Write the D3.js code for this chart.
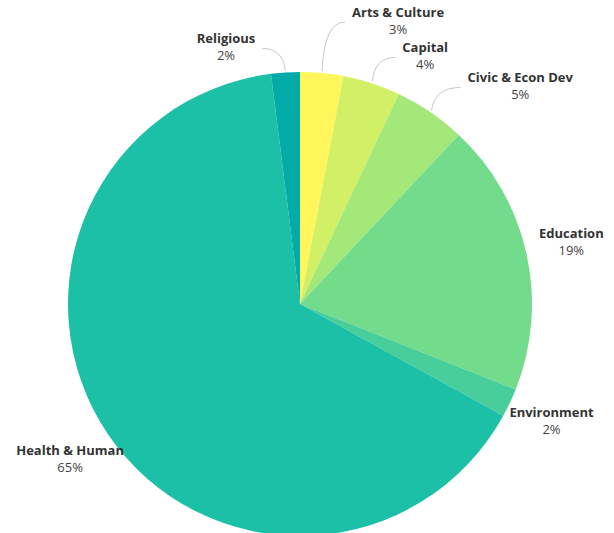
<!DOCTYPE html>
<html>
<head>
<meta charset="utf-8">
<script src="https://cdn.jsdelivr.net/npm/d3@7"></script>
<style>
  body { margin: 0; background: #fff; }
  svg { display: block; font-family: "Open Sans", sans-serif; }
</style>
</head>
<body>
<svg width="614" height="533"></svg>
<script>
const width = 614;
const height = 533;

// data, clockwise from 12 o'clock
const categories = ["Arts & Culture", "Capital", "Civic & Econ Dev", "Education", "Environment", "Health & Human", "Religious"];
const values = [3, 4, 5, 19, 2, 65, 2];

const palette = ["#fef65b", "#d1f065", "#a3e878", "#72db8c", "#47ce9a", "#1cc0a7", "#03aba8"];

// small slices get a curved leader line, offset from the slice edge
const connectors = {
  "Religious": [-23, -22],
  "Arts & Culture": [23, -49],
  "Capital": [23, -24],
  "Civic & Econ Dev": [29, -23]
};

const cx = 300;
const cy = 304;
const radius = 232;

const svg = d3.select("svg");
const color = d3.scaleOrdinal().domain(categories).range(palette);

const pie = d3.pie().sort(null).value(d => d.value);
const arcs = pie(categories.map((c, i) => ({ name: c, value: values[i] })));

const arc = d3.arc().innerRadius(0).outerRadius(radius);

const g = svg.append("g").attr("transform", `translate(${cx},${cy})`);

g.selectAll("path.slice")
  .data(arcs)
  .join("path")
  .attr("class", "slice")
  .attr("d", arc)
  .attr("fill", d => color(d.data.name));

function polar(a, r) {
  return [Math.sin(a) * r, -Math.cos(a) * r];
}

const labels = g.append("g");

arcs.forEach(d => {
  const mid = (d.startAngle + d.endAngle) / 2;
  const off = connectors[d.data.name];
  let lx, ly, anchorSide = 0, ex, ey;

  if (off) {
    const [sx, sy] = polar(mid, radius + 2);
    ex = sx + off[0];
    ey = sy + off[1];
    labels.append("path")
      .attr("d", `M${sx},${sy}Q${sx + off[0] * 0.1},${ey} ${ex},${ey}`)
      .attr("fill", "none")
      .attr("stroke", "#c8c8c8")
      .attr("stroke-width", 1);
    anchorSide = off[0] < 0 ? -1 : 1;
    ly = ey;
  } else {
    [lx, ly] = polar(mid, 278);
  }

  const t = labels.append("g");
  const name = t.append("text")
    .attr("text-anchor", "middle")
    .attr("y", ly - 5)
    .style("font-size", "13px")
    .style("font-weight", "bold")
    .attr("fill", "#333")
    .text(d.data.name);
  t.append("text")
    .attr("text-anchor", "middle")
    .attr("y", ly + 12)
    .style("font-size", "13px")
    .attr("fill", "#444")
    .text(d.data.value + "%");

  if (anchorSide) {
    const w = name.node().getComputedTextLength();
    lx = ex + anchorSide * (7 + w / 2);
  }
  t.selectAll("text").attr("x", lx);
});
</script>
</body>
</html>
